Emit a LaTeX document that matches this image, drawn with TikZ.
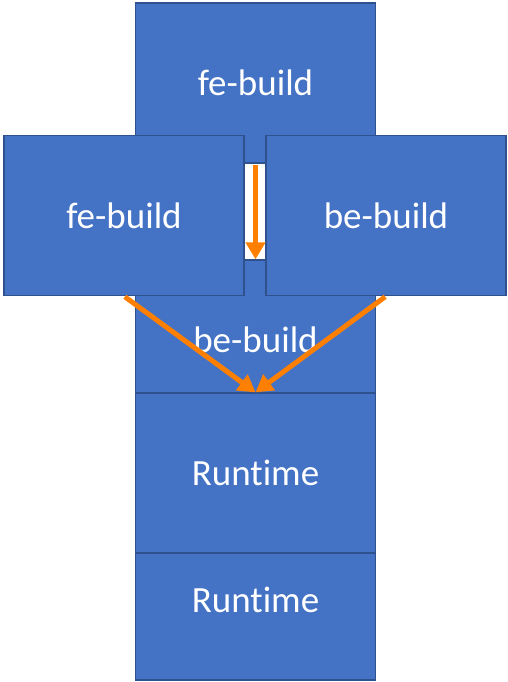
\documentclass[tikz,border=0pt]{standalone}
\usepackage{fontspec}
\setmainfont[Ligatures=NoCommon]{Carlito}
\usepackage{tikz}
\usetikzlibrary{arrows.meta, positioning}
\definecolor{stblue}{HTML}{4472C4}
\definecolor{stedge}{HTML}{2F528F}
\definecolor{storange}{HTML}{FF8000}

\begin{document}
\begin{tikzpicture}[
  x=1pt, y=-1pt,
  line join=miter,
  stage/.style={draw=stedge, fill=stblue, line width=1.3pt,
    minimum width=240pt, minimum height=160pt, inner sep=0pt,
    text=white, font=\fontsize{37}{44}\selectfont},
  flow/.style={draw=storange, line width=5pt,
    -{Triangle[length=17pt,width=19pt]}, shorten <=1pt},
]
\useasboundingbox (0,0) rectangle (508,682);

% central column, back to front
\node[stage] (feTop) at (255.5,83) {fe-build};
\node[stage] (beMid) at (255.5,340) {be-build};
\node[stage] (runLow) at (255.5,600) {Runtime};
\node[stage] (runUp) at (255.5,473) {Runtime};

% side boxes in front of the column
\node[stage] (feSide) at (124,215.5) {fe-build};
\node[stage] (beSide) at (386,215.5) {be-build};

% gap between the side boxes
\fill[white] (feSide.north east |- feTop.south) rectangle (beSide.south west |- beMid.north);
\draw[stedge, line width=1.3pt] (feSide.east |- beMid.north) -- (beSide.west |- beMid.north);

% arrows
\draw[flow] (feTop.south) -- (beMid.north);
\draw[flow] (feSide.south) -- (runUp.north);
\draw[flow] (beSide.south) -- (runUp.north);
\end{tikzpicture}
\end{document}
